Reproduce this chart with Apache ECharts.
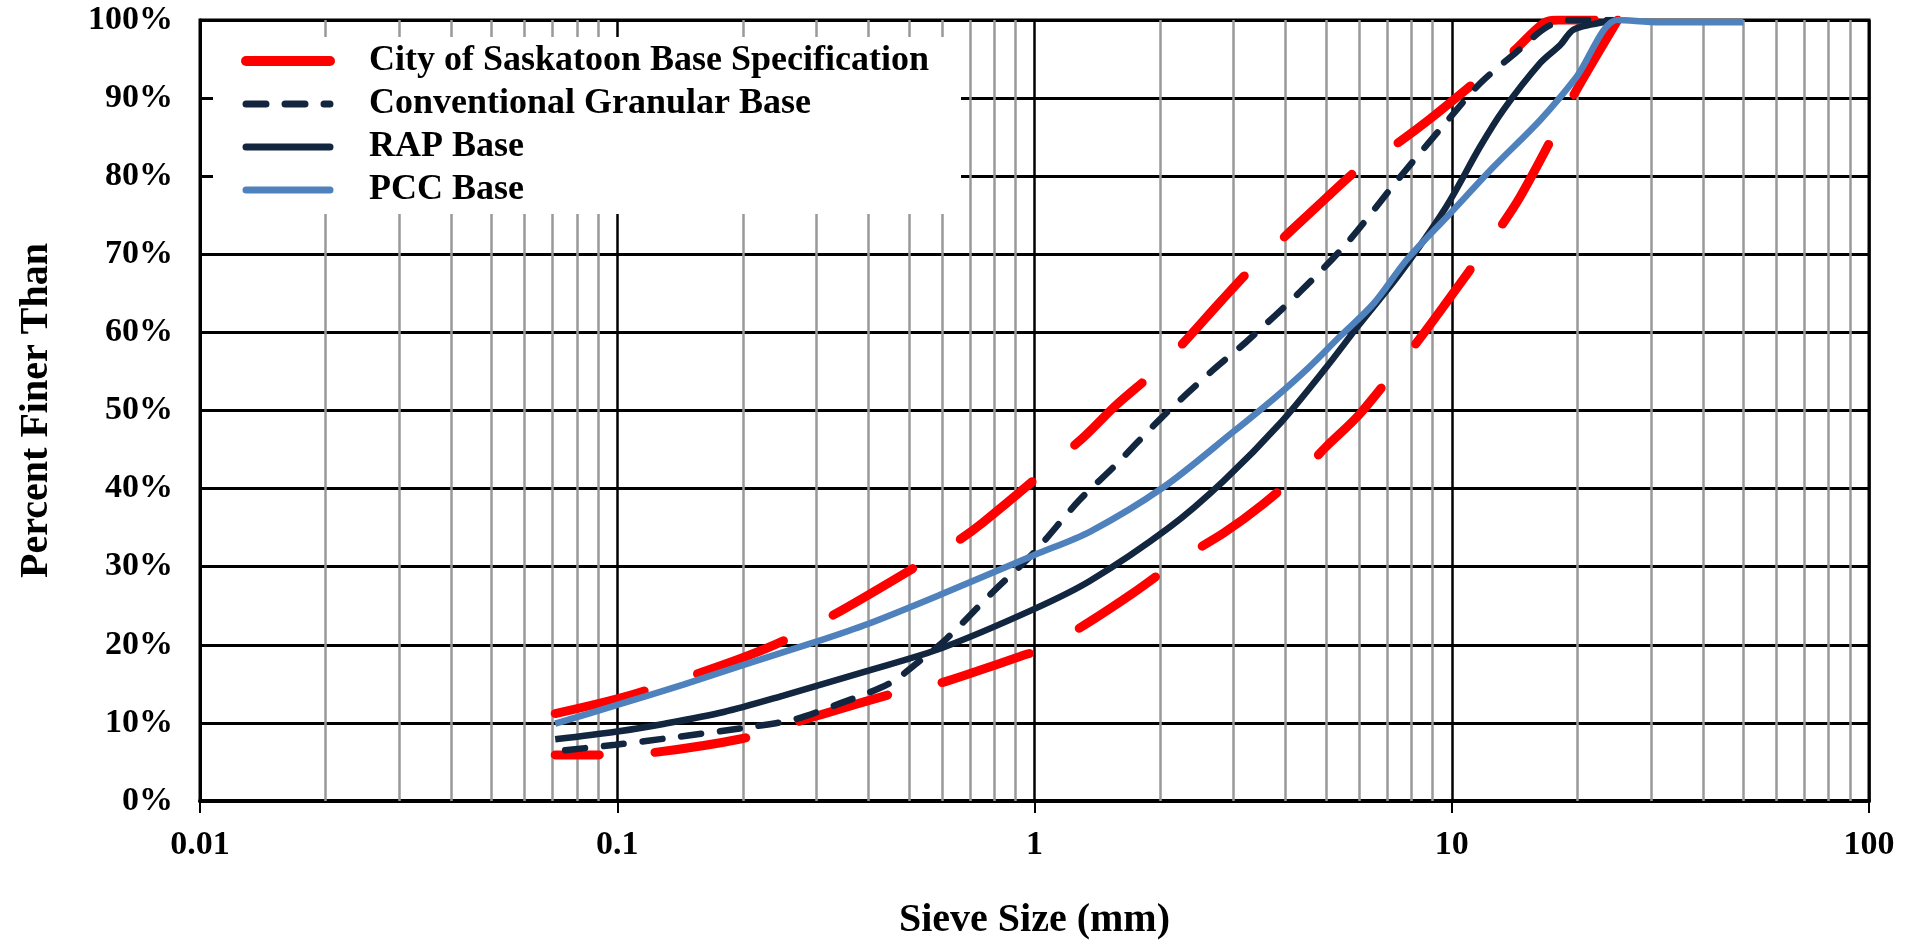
<!DOCTYPE html>
<html>
<head>
<meta charset="utf-8">
<title>Gradation curves</title>
<script src="https://cdn.jsdelivr.net/npm/echarts@6/dist/echarts.min.js"></script>
<style>
  html, body { margin: 0; padding: 0; background: #fff; }
  #chart { width: 1919px; height: 942px; }
</style>
</head>
<body>
<div id="chart"></div>
<script>
// sieve size (mm), percent finer
const specUpper = [[0.071, 11.2], [0.113, 13.9], [0.25, 20.5], [0.6, 32.0], [0.75, 35.6], [1.3, 46.4], [1.57, 50.7],
  [2.04, 56.0], [2.81, 64.1], [3.37, 68.6], [5.0, 77.2], [6.0, 81.0], [7.4, 84.2], [9.1, 87.8], [12.1, 93.2],
  [14.0, 95.9], [16.6, 99.6], [18, 100], [25, 100]]
const specLower = [[0.071, 5.9], [0.095, 5.9], [0.122, 6.2], [0.2, 8.0], [0.254, 9.7], [0.447, 13.6], [0.594, 15.1],
  [0.727, 16.6], [0.923, 18.5], [1.08, 19.8], [1.36, 23.0], [1.72, 26.6], [2.23, 30.9], [2.84, 34.3], [3.51, 37.9],
  [4.49, 42.8], [5.01, 45.4], [6.03, 49.6], [8.16, 58.4], [9.55, 63.3], [12.7, 72.5], [14.6, 77.4], [18.4, 87.4],
  [19.7, 90.6], [25, 100]]
const conventional = [[0.075, 6.5], [0.099, 7.2], [0.139, 8.2], [0.197, 9.3], [0.264, 10.4], [0.342, 12.5],
  [0.451, 15.1], [0.541, 18.3], [0.616, 20.8], [0.796, 26.8], [1.0, 31.9], [1.28, 38.5], [1.55, 42.8], [2.0, 48.9],
  [2.68, 55.2], [3.22, 58.8], [4.33, 65.2], [5.6, 71.4], [7.52, 79.9], [9.73, 87.0], [11.7, 91.9], [14.3, 95.9],
  [16.9, 99.1], [19.2, 100], [25, 100]]
const rap = [[0.071, 7.9], [0.1, 8.9], [0.13, 9.9], [0.18, 11.4], [0.25, 13.5], [0.4, 16.7], [0.6, 19.6], [1.0, 24.6],
  [1.36, 28.2], [2.1, 35.0], [2.84, 41.0], [3.9, 48.5], [5.0, 55.5], [6.0, 61.0], [7.5, 67.5], [9.7, 76.1],
  [11.7, 83.8], [13.3, 88.5], [16.3, 94.5], [18.2, 96.8], [19.5, 98.7], [21.5, 99.4], [25, 100]]
const pcc = [[0.071, 9.9], [0.1, 12.3], [0.144, 14.9], [0.2, 17.4], [0.3, 20.4], [0.4, 22.7], [0.6, 26.5], [1.0, 31.5],
  [1.36, 34.5], [2.04, 40.2], [3.0, 47.3], [3.8, 51.8], [4.5, 55.3], [5.4, 59.5], [6.5, 63.7], [7.8, 69.3],
  [9.9, 75.2], [12.6, 81.2], [16.3, 87.2], [19.9, 92.7], [25, 100], [31.5, 99.7], [50, 99.7]]

const seriesNames = ['City of Saskatoon Base Specification', 'Conventional Granular Base', 'RAP Base', 'PCC Base']
const xTickLabels = ['0.01', '0.1', '1', '10', '100']
const minorSizes = [0.02, 0.03, 0.04, 0.05, 0.06, 0.07, 0.08, 0.09, 0.2, 0.3, 0.4, 0.5, 0.6, 0.7, 0.8, 0.9,
  2, 3, 4, 5, 6, 7, 8, 9, 20, 30, 40, 50, 60, 70, 80, 90]

const RED = '#ff0000'
const NAVY = '#12263f'
const BLUE = '#4f81bd'
const FONT = 'Liberation Serif'

const chart = echarts.init(document.getElementById('chart'))

const lineBase = {
    type: 'line',
    symbol: 'none',
    smooth: 0.3,
    z: 3
}

const option = {
    animation: false,
    textStyle: { fontFamily: FONT, fontWeight: 'bold', color: '#000' },
    grid: {
        left: 200, right: 50, top: 20, bottom: 141,
        outerBoundsMode: 'none', containLabel: false,
        show: true, borderColor: '#000', borderWidth: 3, backgroundColor: 'transparent'
    },
    legend: {
        orient: 'vertical',
        left: 213, top: 37,
        padding: [6, 32, 6, 28],
        backgroundColor: '#fff',
        z: 6,
        itemWidth: 84, itemHeight: 14, itemGap: 7,
        textStyle: { fontFamily: FONT, fontWeight: 'bold', fontSize: 36, lineHeight: 36, color: '#000', padding: [0, 0, 0, 34] },
        data: [
            { name: seriesNames[0], lineStyle: { width: 10, cap: 'round' }, itemStyle: { opacity: 0 } },
            { name: seriesNames[1], lineStyle: { width: 7, cap: 'round' }, itemStyle: { opacity: 0 } },
            { name: seriesNames[2], lineStyle: { width: 7, cap: 'round' }, itemStyle: { opacity: 0 } },
            { name: seriesNames[3], lineStyle: { width: 7, cap: 'round' }, itemStyle: { opacity: 0 } }
        ]
    },
    xAxis: {
        type: 'log', logBase: 10, min: 0.01, max: 100,
        name: 'Sieve Size (mm)', nameLocation: 'middle', nameGap: 100,
        nameTextStyle: { fontFamily: FONT, fontWeight: 'bold', fontSize: 40, color: '#000' },
        axisLine: { lineStyle: { color: '#000', width: 4 } },
        axisTick: { show: true, inside: false, length: 12, lineStyle: { color: '#000', width: 2 } },
        axisLabel: {
            margin: 27, fontFamily: FONT, fontWeight: 'bold', fontSize: 34, color: '#000',
            formatter: v => xTickLabels[Math.round(Math.log10(v)) + 2]
        },
        splitLine: { show: true, lineStyle: { color: '#000', width: 2.5 } }
    },
    yAxis: {
        type: 'value', min: 0, max: 100, interval: 10,
        name: 'Percent Finer Than', nameLocation: 'middle', nameGap: 143, nameRotate: 90,
        nameTextStyle: { fontFamily: FONT, fontWeight: 'bold', fontSize: 40, color: '#000' },
        axisLine: { show: true, lineStyle: { color: '#000', width: 3 } },
        axisTick: { show: true, inside: true, length: 14, lineStyle: { color: '#000', width: 3 } },
        axisLabel: { margin: 27, fontFamily: FONT, fontWeight: 'bold', fontSize: 34, color: '#000', formatter: '{value}%' },
        splitLine: { show: true, lineStyle: { color: '#000', width: 3 } }
    },
    series: [
        {
            // minor vertical gridlines
            type: 'line', name: 'minor', data: [], z: 1, silent: true,
            markLine: {
                z: 1, silent: true, symbol: 'none', label: { show: false },
                lineStyle: { color: '#999', width: 2.5, type: 'solid' },
                data: minorSizes.map(v => ({ xAxis: v }))
            }
        },
        Object.assign({}, lineBase, {
            name: seriesNames[0], data: specUpper,
            lineStyle: { color: RED, width: 9, type: [92, 56], dashOffset: 0, cap: 'round' }, itemStyle: { color: RED }
        }),
        Object.assign({}, lineBase, {
            name: seriesNames[0], data: specLower,
            lineStyle: { color: RED, width: 9, type: [92, 56], dashOffset: 48, cap: 'round' }, itemStyle: { color: RED }
        }),
        Object.assign({}, lineBase, {
            name: seriesNames[1], data: conventional, z: 4,
            lineStyle: { color: NAVY, width: 6.5, type: [20, 19], cap: 'round' }, itemStyle: { color: NAVY }
        }),
        Object.assign({}, lineBase, {
            name: seriesNames[2], data: rap, z: 4,
            lineStyle: { color: NAVY, width: 6.5 }, itemStyle: { color: NAVY }
        }),
        Object.assign({}, lineBase, {
            name: seriesNames[3], data: pcc, z: 4,
            lineStyle: { color: BLUE, width: 6.5 }, itemStyle: { color: BLUE }
        })
    ]
}

chart.setOption(option)
</script>
</body>
</html>
